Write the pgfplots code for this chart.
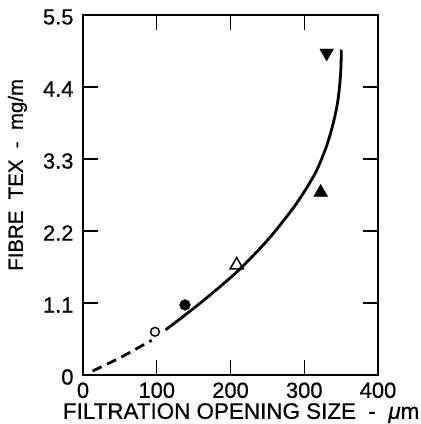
\documentclass[border=0pt]{standalone}
\usepackage{fontspec}
\setmainfont{Liberation Sans}[FakeBold=0.6]
\usepackage{pgfplots}
\pgfplotsset{compat=1.18}

\begin{document}
\begin{tikzpicture}
  \begin{axis}[
    scale only axis,
    width=295bp, height=360bp,
    xmin=0, xmax=400, ymin=0, ymax=5.5,
    xtick={0,100,200,300,400},
    xticklabels={0,100,200,300,400},
    ytick={0,1.1,2.2,3.3,4.4,5.5},
    yticklabels={0,1.1,2.2,3.3,4.4,5.5},
    tick align=inside,
    major tick length=15bp,
    axis line style={line width=1.4bp},
    tick style={black, line width=1.4bp},
    tick label style={font=\fontsize{22}{24}\selectfont},
    xticklabel style={yshift=-4bp},
    yticklabel style={xshift=-6bp, yshift=-2bp},
    xlabel={FILTRATION OPENING SIZE \ - \ {\itshape μ}m},
    ylabel={FIBRE \ TEX \ - \ mg/m},
    xlabel style={font=\fontsize{22.5}{24}\selectfont,
                  at={(axis description cs:0.536,-0.106)}, anchor=center},
    ylabel style={font=\fontsize{20.5}{24}\selectfont,
                  at={(axis description cs:-0.222,0.556)}, anchor=center},
    clip=false,
  ]
    % extrapolated part
    \addplot[black, line width=2.8bp, dash pattern=on 10bp off 6bp]
      coordinates {(13,0.06) (50,0.26) (93,0.53)};
    % fitted curve
    \addplot[black, line width=2.8bp, smooth]
      coordinates {(112,0.69) (140,0.93) (170,1.20) (211,1.60) (251,2.07)
                   (283,2.52) (301.7,2.83) (317,3.13) (330,3.49) (339.4,3.85)
                   (345.7,4.20) (349.3,4.60) (350.3,4.97)};
    % measured points
    \addplot[only marks, mark=o, mark size=4.4bp, mark options={line width=1.4bp}]
      coordinates {(97.6,0.66)};
    \addplot[only marks, mark=*, mark size=5.4bp]
      coordinates {(138.3,1.07)};
    \addplot[only marks, mark=triangle, mark size=7.5bp, mark options={line width=1.5bp}]
      coordinates {(208.4,1.68)};
    \addplot[only marks, mark=triangle*, mark size=8bp]
      coordinates {(322.3,2.79)};
    \addplot[only marks, mark=triangle*, mark size=8bp, mark options={rotate=180}]
      coordinates {(330.4,4.92)};
  \end{axis}
  \pgfresetboundingbox
  \path[use as bounding box] (-83bp,-49bp) rectangle (338bp,375bp);
\end{tikzpicture}
\end{document}
